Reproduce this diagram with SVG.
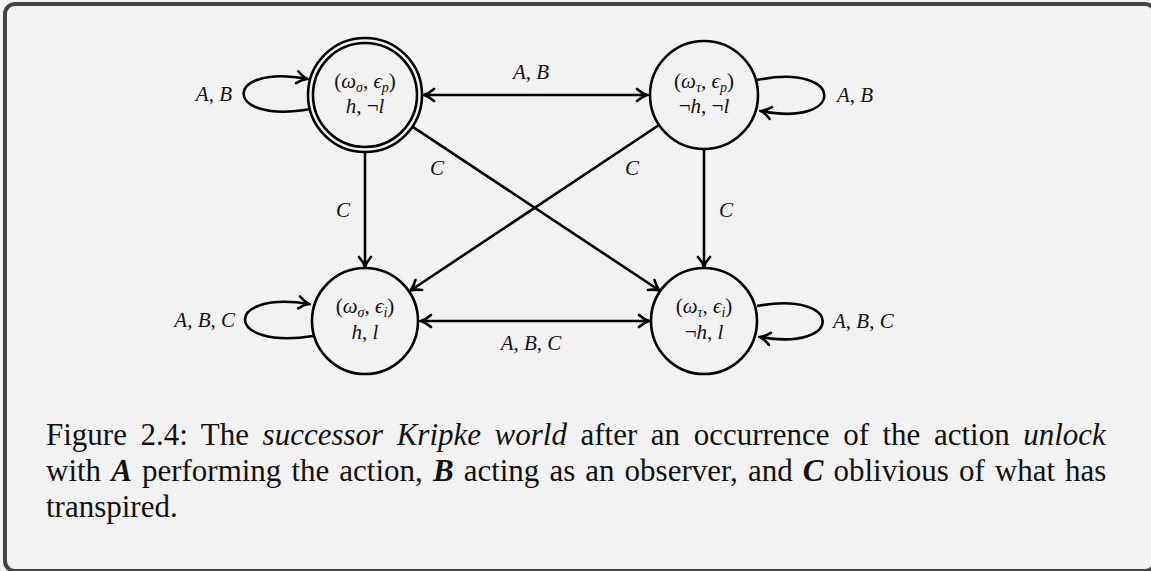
<svg xmlns="http://www.w3.org/2000/svg" width="1151" height="571" viewBox="0 0 1151 571">
<style>
.edge{fill:none;stroke:#000;stroke-width:2.6}
.nc{fill:none;stroke:#000;stroke-width:2.6}
.m{font-family:"Liberation Serif","DejaVu Serif",serif;font-size:21px;font-style:italic;text-anchor:middle;fill:#111}
.lbl{font-family:"Liberation Serif","DejaVu Serif",serif;font-size:21px;font-style:italic;fill:#111}
.up{font-style:normal}
.sub{font-size:14px}
.cap{font-family:"Liberation Serif","Times New Roman",serif;font-size:31px;fill:#111}
.bi{font-weight:bold;font-style:italic}
</style>
<defs>
<marker id="ah" viewBox="-12 -8 14 16" refX="0" refY="0" markerWidth="14" markerHeight="16" markerUnits="userSpaceOnUse" orient="auto-start-reverse">
<path d="M -10,-6 C -6,-2.5 -2,-0.6 0,0 C -2,0.6 -6,2.5 -10,6" fill="none" stroke="#000" stroke-width="2.6" stroke-linecap="round"/>
</marker>
</defs>
<rect x="0" y="0" width="1151" height="571" fill="#f2f2f2"/>
<rect x="5" y="4" width="1150" height="567" rx="10" fill="#f2f2f2" stroke="#444" stroke-width="4"/>

<g id="connectors">
<line class="edge" x1="424" y1="95" x2="647" y2="95" marker-start="url(#ah)" marker-end="url(#ah)"/>
<line class="edge" x1="421" y1="321" x2="649" y2="321" marker-start="url(#ah)" marker-end="url(#ah)"/>
<line class="edge" x1="365" y1="152" x2="365" y2="267" marker-end="url(#ah)"/>
<line class="edge" x1="704" y1="149" x2="704" y2="267" marker-end="url(#ah)"/>
<line class="edge" x1="412.4" y1="126.6" x2="659.5" y2="290.5" marker-end="url(#ah)"/>
<line class="edge" x1="659" y1="125" x2="410.5" y2="290.5" marker-end="url(#ah)"/>
<path class="edge" d="M 310,109 C 222,125 222,63 307,79" marker-end="url(#ah)"/>
<path class="edge" d="M 757,80 C 846,62 846,128 761,111" marker-end="url(#ah)"/>
<path class="edge" d="M 313,336 C 223,350 223,290 309,304" marker-end="url(#ah)"/>
<path class="edge" d="M 757,306 C 844,290 844,352 760,337" marker-end="url(#ah)"/>
<text class="lbl" x="531" y="79" text-anchor="middle">A<tspan class="up">, </tspan>B</text>
<text class="lbl" x="531" y="350" text-anchor="middle">A<tspan class="up">, </tspan>B<tspan class="up">, </tspan>C</text>
<text class="lbl" x="343" y="217" text-anchor="middle">C</text>
<text class="lbl" x="726" y="217" text-anchor="middle">C</text>
<text class="lbl" x="437" y="175" text-anchor="middle">C</text>
<text class="lbl" x="632" y="175" text-anchor="middle">C</text>
<text class="lbl" x="232" y="101" text-anchor="end">A<tspan class="up">, </tspan>B</text>
<text class="lbl" x="837" y="102">A<tspan class="up">, </tspan>B</text>
<text class="lbl" x="235" y="327" text-anchor="end">A<tspan class="up">, </tspan>B<tspan class="up">, </tspan>C</text>
<text class="lbl" x="833" y="328">A<tspan class="up">, </tspan>B<tspan class="up">, </tspan>C</text>
</g>

<g id="n_sp">
<circle class="nc" cx="365" cy="95" r="57"/>
<circle class="nc" cx="365" cy="95" r="52"/>
<text class="m" x="365" y="88"><tspan class="up">(</tspan>ω<tspan class="sub" dy="4">σ</tspan><tspan class="up" dy="-4">, </tspan>ϵ<tspan class="sub" dy="4">p</tspan><tspan class="up" dy="-4">)</tspan></text>
<text class="m" x="365" y="113">h<tspan class="up">, ¬</tspan>l</text>
</g>
<g id="n_tp">
<circle class="nc" cx="704" cy="95" r="54"/>
<text class="m" x="704" y="88"><tspan class="up">(</tspan>ω<tspan class="sub" dy="4">τ</tspan><tspan class="up" dy="-4">, </tspan>ϵ<tspan class="sub" dy="4">p</tspan><tspan class="up" dy="-4">)</tspan></text>
<text class="m" x="704" y="113"><tspan class="up">¬</tspan>h<tspan class="up">, ¬</tspan>l</text>
</g>
<g id="n_si">
<circle class="nc" cx="365" cy="321" r="53"/>
<text class="m" x="365" y="313"><tspan class="up">(</tspan>ω<tspan class="sub" dy="4">σ</tspan><tspan class="up" dy="-4">, </tspan>ϵ<tspan class="sub" dy="4">i</tspan><tspan class="up" dy="-4">)</tspan></text>
<text class="m" x="365" y="339">h<tspan class="up">, </tspan>l</text>
</g>
<g id="n_ti">
<circle class="nc" cx="704" cy="321" r="53"/>
<text class="m" x="704" y="313"><tspan class="up">(</tspan>ω<tspan class="sub" dy="4">τ</tspan><tspan class="up" dy="-4">, </tspan>ϵ<tspan class="sub" dy="4">i</tspan><tspan class="up" dy="-4">)</tspan></text>
<text class="m" x="704" y="339"><tspan class="up">¬</tspan>h<tspan class="up">, </tspan>l</text>
</g>

<g id="caption">
<text class="cap" x="46" y="445" word-spacing="5.8">Figure 2.4: The <tspan font-style="italic">successor Kripke world</tspan> after an occurrence of the action <tspan font-style="italic">unlock</tspan></text>
<text class="cap" x="46" y="481" word-spacing="2.3">with <tspan class="bi">A</tspan> performing the action, <tspan class="bi">B</tspan> acting as an observer, and <tspan class="bi">C</tspan> oblivious of what has</text>
<text class="cap" x="46" y="517">transpired.</text>
</g>
</svg>
